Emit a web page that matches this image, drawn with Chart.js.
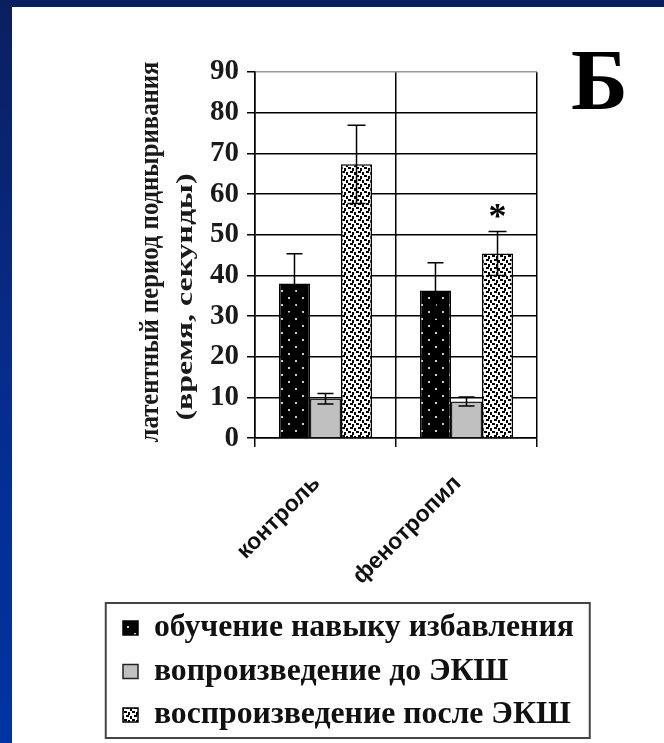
<!DOCTYPE html>
<html>
<head>
<meta charset="utf-8">
<script src="https://cdn.jsdelivr.net/npm/chart.js@4/dist/chart.umd.min.js"></script>
<style>
html,body{margin:0;padding:0;}
body{width:664px;height:743px;overflow:hidden;position:relative;background:linear-gradient(180deg,#0a1f5e 0%,#062c8c 50%,#0033a3 100%);}
#wrap{position:absolute;left:12px;top:7px;width:652px;height:736px;background:#fff;}
canvas{display:block;}
</style>
</head>
<body>
<div id="wrap"><canvas id="c" width="652" height="736"></canvas></div>
<script>
// ---- data ----
const categories = ['контроль', 'фенотропил'];
const seriesNames = ['обучение навыку избавления', 'вопроизведение до ЭКШ', 'воспроизведение после ЭКШ'];
const learning = [38.0, 36.3];
const learningErr = [7.3, 6.8];
const beforeECS = [9.7, 9.0];
const beforeECSErr = [1.3, 1.1];
const afterECS = [67.3, 45.4];
const afterECSErr = [9.6, 5.4];
const afterECSMarks = ['', '*'];
const yTickValues = [0, 10, 20, 30, 40, 50, 60, 70, 80, 90];
const yTitleLines = ['латентный период подныривания', '(время, секунды)'];
const panelLetter = 'Б';

// ---- fonts ----
const SERIF = "'Liberation Serif', 'Times New Roman', serif";
const SANS = "'Liberation Sans Narrow', 'Liberation Sans', Arial, sans-serif";
const mctx = document.createElement('canvas').getContext('2d');
function fitSize(text, weight, family, target) {
  mctx.font = weight + ' 100px ' + family;
  return 100 * target / mctx.measureText(text).width;
}
const legendSize = fitSize(seriesNames[0], 'bold', SERIF, 420);
const xLabelSize = fitSize(categories[1], 'bold', SANS, 142);

// ---- patterns ----
function dotPattern() {
  const c = document.createElement('canvas'); c.width = 14; c.height = 14;
  const g = c.getContext('2d');
  g.fillStyle = '#000'; g.fillRect(0, 0, 14, 14);
  g.fillStyle = '#d0d0d0'; g.fillRect(3, 3, 2, 2); g.fillRect(10, 10, 2, 2);
  return g.createPattern(c, 'repeat');
}
function confettiPattern() {
  const c = document.createElement('canvas'); c.width = 8; c.height = 8;
  const g = c.getContext('2d');
  g.fillStyle = '#fff'; g.fillRect(0, 0, 8, 8);
  g.fillStyle = '#000';
  g.fillRect(0, 0, 3, 2); g.fillRect(4, 1, 2, 3); g.fillRect(2, 4, 3, 2); g.fillRect(6, 5, 2, 3);
  return g.createPattern(c, 'repeat');
}

// ---- layout numbers ----
const rowGap = 43.5;
const legendPad = rowGap - legendSize;
const padLeft = 111 - legendPad;
const padRight = 8;
const chartLeft = 243, chartTop = 65, chartBottom = 431, chartRight = 525;
const legendTop = 621 - legendPad - legendSize / 2;

const errorSets = [learningErr, beforeECSErr, afterECSErr];
const markSets = [null, null, afterECSMarks];

const errorBars = {
  id: 'errorBars',
  afterDatasetsDraw(chart) {
    const ctx = chart.ctx, y = chart.scales.y;
    ctx.save();
    ctx.strokeStyle = '#000'; ctx.lineWidth = 1.5;
    chart.data.datasets.forEach((ds, di) => {
      const meta = chart.getDatasetMeta(di);
      meta.data.forEach((bar, i) => {
        const v = ds.data[i], e = errorSets[di][i];
        const yt = y.getPixelForValue(v + e), yb = y.getPixelForValue(v - e);
        const half = di === 2 ? 9 : 8;
        ctx.beginPath();
        ctx.moveTo(bar.x, yt); ctx.lineTo(bar.x, yb);
        ctx.moveTo(bar.x - half, yt); ctx.lineTo(bar.x + half, yt);
        ctx.moveTo(bar.x - half, yb); ctx.lineTo(bar.x + half, yb);
        ctx.stroke();
        const marks = markSets[di];
        if (marks && marks[i]) {
          ctx.fillStyle = '#000';
          ctx.font = 'bold 36px ' + SERIF;
          ctx.textAlign = 'center'; ctx.textBaseline = 'middle';
          ctx.fillText(marks[i], bar.x, yt - 13);
        }
      });
    });
    ctx.restore();
  }
};

function drawStretched(ctx, text, cx, cy, size, targetLen) {
  ctx.save();
  ctx.font = 'bold ' + size + 'px ' + SERIF;
  const w = ctx.measureText(text).width;
  ctx.translate(cx, cy);
  ctx.rotate(-Math.PI / 2);
  ctx.scale(targetLen / w, 1);
  ctx.textAlign = 'center'; ctx.textBaseline = 'middle';
  ctx.fillText(text, 0, 0);
  ctx.restore();
}

const decor = {
  id: 'decor',
  afterDraw(chart) {
    const ctx = chart.ctx;
    ctx.save();
    // panel letter
    ctx.fillStyle = '#000';
    ctx.font = 'bold 86px ' + SERIF;
    ctx.textAlign = 'left'; ctx.textBaseline = 'alphabetic';
    ctx.fillText(panelLetter, 559, 102);
    // y-axis titles
    ctx.fillStyle = '#1a1a1a';
    drawStretched(ctx, yTitleLines[0], 139, 245, 27, 381);
    drawStretched(ctx, yTitleLines[1], 174, 290, 24, 247);
    // legend frame
    const lg = chart.legend;
    ctx.strokeStyle = '#444'; ctx.lineWidth = 2;
    ctx.strokeRect(lg.left - 5.5, lg.top + 2.5, 484, 135);
    ctx.restore();
  }
};

new Chart(document.getElementById('c'), {
  type: 'bar',
  data: {
    labels: categories,
    datasets: [
      { label: seriesNames[0], data: learning, backgroundColor: dotPattern(), borderColor: '#000', borderWidth: 1.5 },
      { label: seriesNames[1], data: beforeECS, backgroundColor: '#c0c0c0', borderColor: '#222', borderWidth: 1.5 },
      { label: seriesNames[2], data: afterECS, backgroundColor: confettiPattern(), borderColor: '#000', borderWidth: 1.5 }
    ]
  },
  options: {
    responsive: false,
    animation: false,
    devicePixelRatio: 1,
    datasets: { bar: { categoryPercentage: 0.66, barPercentage: 1.0 } },
    layout: { padding: { left: padLeft, top: chartTop, right: padRight, bottom: 2 } },
    plugins: {
      tooltip: { enabled: false },
      legend: {
        position: 'bottom', align: 'start',
        labels: {
          font: { family: SERIF, weight: 'bold', size: legendSize },
          color: '#111', boxWidth: 15, boxHeight: 14, padding: legendPad
        }
      }
    },
    scales: {
      x: {
        afterFit(s) { s.height = legendTop - chartBottom; },
        grid: { color: '#000', lineWidth: 1.5, tickLength: 9, offset: true },
        border: { display: true, color: '#000', width: 1.5 },
        ticks: {
          font: { family: SANS, weight: 'bold', size: xLabelSize },
          color: '#111', minRotation: 45, maxRotation: 45, padding: 23, labelOffset: -9
        }
      },
      y: {
        min: 0, max: 90,
        afterFit(s) { s.width = chartLeft - padLeft; },
        afterBuildTicks(s) { s.ticks = yTickValues.map(v => ({ value: v })); },
        grid: {
          color: (c) => (c.tick && c.tick.value === 90 ? '#9a9a9a' : '#000'),
          tickColor: '#000', lineWidth: 1.5, tickLength: 8
        },
        border: { display: true, color: '#000', width: 1.5 },
        ticks: {
          font: { family: SERIF, weight: 'bold', size: 29 },
          color: '#1a1a1a', padding: 8
        }
      },
      yRight: {
        type: 'linear', position: 'right', display: true,
        afterFit(s) { s.width = 652 - padRight - chartRight; },
        grid: { display: false }, border: { display: false }, ticks: { display: false }
      }
    }
  },
  plugins: [errorBars, decor]
});
</script>
</body>
</html>
